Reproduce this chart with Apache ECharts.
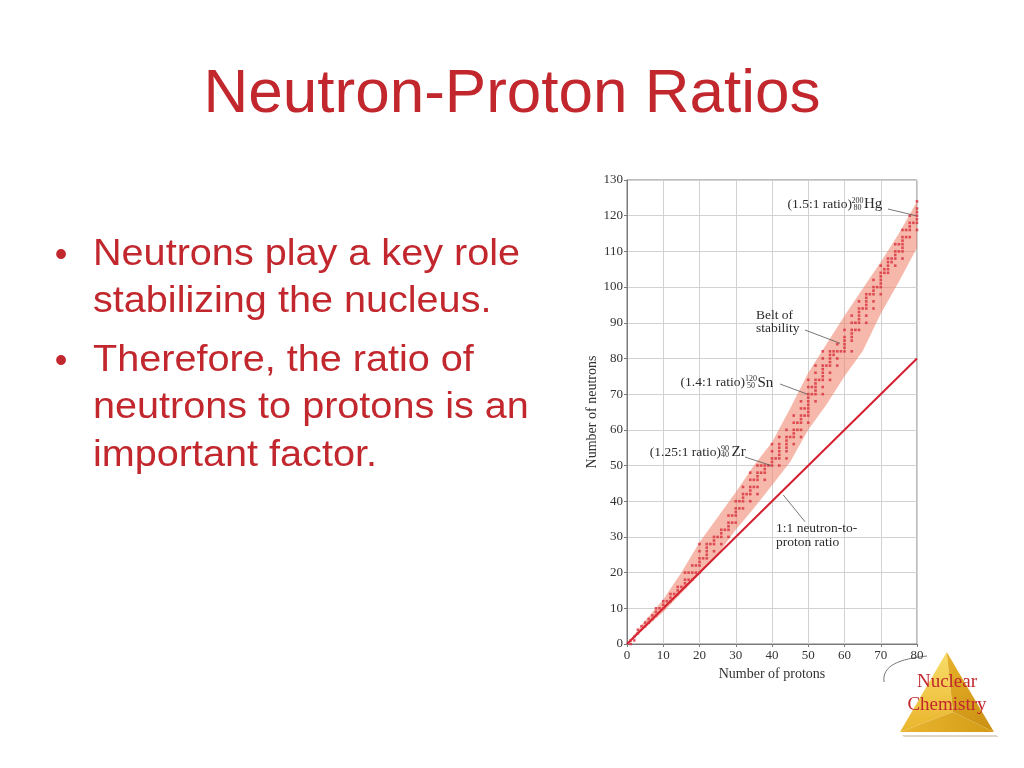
<!DOCTYPE html>
<html>
<head>
<meta charset="utf-8">
<script src="https://cdn.jsdelivr.net/npm/echarts@6/dist/echarts.min.js"></script>
<style>
html,body{margin:0;padding:0;background:#ffffff;}
#chart{width:1024px;height:768px;}
</style>
</head>
<body>
<div id="chart"></div>
<script>
// ---------- DATA ----------
const slideTitle = 'Neutron-Proton Ratios';
const bulletItems = [
  ['Neutrons play a key role', 'stabilizing the nucleus.'],
  ['Therefore, the ratio of', 'neutrons to protons is an', 'important factor.']
];
const xAxisTitle = 'Number of protons';
const yAxisTitle = 'Number of neutrons';
const xRange = [0, 80];
const yRange = [0, 130];
const tickStep = 10;

// stable nuclides: [protons, [neutron counts]]
const stableNuclides = [
  [1,[0,1]],[2,[1,2]],[3,[3,4]],[4,[5]],[5,[5,6]],[6,[6,7]],[7,[7,8]],[8,[8,9,10]],
  [9,[10]],[10,[10,11,12]],[11,[12]],[12,[12,13,14]],[13,[14]],[14,[14,15,16]],[15,[16]],
  [16,[16,17,18,20]],[17,[18,20]],[18,[18,20,22]],[19,[20,22]],[20,[20,22,23,24,26,28]],
  [21,[24]],[22,[24,25,26,27,28]],[23,[28]],[24,[26,28,29,30]],[25,[30]],[26,[28,30,31,32]],
  [27,[32]],[28,[30,32,33,34,36]],[29,[34,36]],[30,[34,36,37,38,40]],[31,[38,40]],
  [32,[38,40,41,42,44]],[33,[42]],[34,[40,42,43,44,46,48]],[35,[44,46]],
  [36,[42,44,46,47,48,50]],[37,[48,50]],[38,[46,48,49,50]],[39,[50]],[40,[50,51,52,54,56]],
  [41,[52]],[42,[50,52,53,54,55,56,58]],[44,[52,54,55,56,57,58,60]],[45,[58]],
  [46,[56,58,59,60,62,64]],[47,[60,62]],[48,[58,60,62,63,64,66,68]],[49,[64,66]],
  [50,[62,64,65,66,67,68,69,70,72,74]],[51,[70,72]],[52,[68,70,71,72,73,74,76,78]],[53,[74]],
  [54,[70,72,74,75,76,77,78,80,82]],[55,[78]],[56,[74,76,78,79,80,81,82]],[57,[81,82]],
  [58,[78,80,82,84]],[59,[82]],[60,[82,83,84,85,86,88]],[62,[82,85,86,87,88,90,92]],
  [63,[88,90]],[64,[88,90,91,92,93,94,96]],[65,[94]],[66,[90,92,94,95,96,97,98]],[67,[98]],
  [68,[94,96,98,99,100,102]],[69,[100]],[70,[98,100,101,102,103,104,106]],[71,[104,105]],
  [72,[104,105,106,107,108]],[73,[107,108]],[74,[106,108,109,110,112]],[75,[110,112]],
  [76,[108,110,111,112,113,114,116]],[77,[114,116]],[78,[114,116,117,118,120]],[79,[118]],
  [80,[116,118,119,120,121,122,124]]
];

// belt of stability edges (protons, neutrons)
const beltUpper = [[0,0],[5,6.5],[10,12.5],[15,20],[20,28.5],[25,35.5],[30,42.5],[35,50],[40,56.5],[45,66],[50,76],[55,84],[60,92],[65,99.5],[70,107],[75,115],[80,124]];
const beltLower = [[0,0],[10,9],[20,19.5],[25,25],[30,32],[35,38],[40,44.5],[45,51],[50,60],[55,67],[60,75],[65,82],[70,92.5],[75,101.5],[80,111]];

// 1:1 ratio line
const unityLine = [[0,0],[80,80]];

// annotations (text)
const nuclideNotes = [
  {ratio:'(1.5:1 ratio)', mass:'200', atomic:'80', symbol:'Hg', point:[80,120]},
  {ratio:'(1.4:1 ratio)', mass:'120', atomic:'50', symbol:'Sn', point:[50,70]},
  {ratio:'(1.25:1 ratio)', mass:'90', atomic:'40', symbol:'Zr', point:[40,50]}
];
const beltNote = ['Belt of', 'stability'];
const unityNote = ['1:1 neutron-to-', 'proton ratio'];
const logoLines = ['Nuclear', 'Chemistry'];

// ---------- CHART ----------
const scatterData = [];
stableNuclides.forEach(function (row) {
  row[1].forEach(function (n) { scatterData.push([row[0], n]); });
});
const beltPolygon = beltUpper.concat(beltLower.slice().reverse());

const chart = echarts.init(document.getElementById('chart'), null, {renderer: 'canvas'});
const serif = '"Liberation Serif", "Times New Roman", serif';
const sans = '"Liberation Sans", Arial, sans-serif';
const red = '#c1272d';

chart.setOption({
  backgroundColor: '#ffffff',
  animation: false,
  grid: {left: 627, right: 107, top: 180, bottom: 124, show: true, borderColor: '#7a7a7a', borderWidth: 1, backgroundColor: 'transparent'},
  xAxis: {
    type: 'value', min: xRange[0], max: xRange[1], interval: tickStep,
    name: xAxisTitle, nameLocation: 'middle', nameGap: 18,
    nameTextStyle: {fontFamily: serif, fontSize: 14, color: '#333'},
    axisLine: {show: true, lineStyle: {color: '#7a7a7a', width: 1}},
    axisTick: {show: true, length: 3, lineStyle: {color: '#7a7a7a'}},
    axisLabel: {fontFamily: serif, fontSize: 13, color: '#333', margin: 5},
    splitLine: {show: true, lineStyle: {color: '#d2d2d2', width: 1}}
  },
  yAxis: {
    type: 'value', min: yRange[0], max: yRange[1], interval: tickStep,
    name: yAxisTitle, nameLocation: 'middle', nameGap: 25, nameRotate: 90,
    nameTextStyle: {fontFamily: serif, fontSize: 14, color: '#333'},
    axisLine: {show: true, lineStyle: {color: '#7a7a7a', width: 1}},
    axisTick: {show: true, length: 3, lineStyle: {color: '#7a7a7a'}},
    axisLabel: {fontFamily: serif, fontSize: 13, color: '#333', margin: 4},
    splitLine: {show: true, lineStyle: {color: '#d2d2d2', width: 1}}
  },
  series: [
    {
      type: 'custom', silent: true, z: 1, clip: true,
      data: beltPolygon,
      renderItem: function (params, api) {
        if (params.dataIndex !== 0) return null;
        return {
          type: 'polygon',
          shape: {points: beltPolygon.map(function (p) { return api.coord(p); })},
          style: {fill: 'rgba(239,126,100,0.55)'}
        };
      }
    },
    {
      type: 'line', data: unityLine, symbol: 'none', z: 3, silent: true,
      lineStyle: {color: '#d51f30', width: 2}
    },
    {
      type: 'scatter', data: scatterData, symbol: 'rect', symbolSize: 2.6, z: 4, silent: true,
      itemStyle: {color: '#d8303c'}
    }
  ]
});

// ---------- DECORATION / ANNOTATIONS ----------
function px(p) { return chart.convertToPixel({gridIndex: 0}, p); }
const g = [];
function txt(text, x, y, font, fill, align, extra) {
  const el = {type: 'text', x: x, y: y, z: 100, style: {text: text, font: font, fill: fill, align: align || 'left', verticalAlign: 'middle'}};
  if (extra) Object.assign(el, extra);
  g.push(el);
}
function seg(x1, y1, x2, y2) {
  g.push({type: 'line', z: 99, shape: {x1: x1, y1: y1, x2: x2, y2: y2}, style: {stroke: '#555', lineWidth: 0.8}});
}

// title
txt(slideTitle, 512, 94.5, '62px ' + sans, red, 'center');

// bullets
const bulletTop = [[255, 302.5], [361, 408.5, 456]];
bulletItems.forEach(function (lines, i) {
  txt('\u2022', 61, bulletTop[i][0] + 1, '36px ' + sans, red, 'center');
  lines.forEach(function (line, j) {
    txt(line, 93, bulletTop[i][j], '36px ' + sans, red, 'left', {scaleX: 1.1});
  });
});

// nuclide labels
const noteLayout = [
  {rx: 852, y: 204.3, sx: 857.5, from: [888, 209]},
  {rx: 745, y: 382.6, sx: 751, from: [780, 384]},
  {rx: 721, y: 452, sx: 725, from: [745, 457]}
];
const f13 = '13.5px ' + serif;
nuclideNotes.forEach(function (n, i) {
  const L = noteLayout[i];
  txt(n.ratio, L.rx, L.y, f13, '#2b2b2b', 'right');
  txt(n.mass, L.sx, L.y - 3.3, '8px ' + serif, '#2b2b2b', 'center');
  txt(n.atomic, L.sx, L.y + 3.3, '8px ' + serif, '#2b2b2b', 'center');
  txt(n.symbol, L.sx + 6.5, L.y, '15px ' + serif, '#2b2b2b', 'left');
  const end = px(n.point);
  seg(L.from[0], L.from[1], end[0] - 1, end[1]);
});

// belt of stability
txt(beltNote[0], 756, 315.3, f13, '#2b2b2b', 'left');
txt(beltNote[1], 756, 328.6, f13, '#2b2b2b', 'left');
seg(805, 330, 840, 343.3);

// 1:1 label
txt(unityNote[0], 776, 528.6, f13, '#2b2b2b', 'left');
txt(unityNote[1], 776, 542, f13, '#2b2b2b', 'left');
seg(805, 521.7, 783.3, 495);

// logo
g.push({type: 'polygon', z: 90, shape: {points: [[902, 735], [996, 735], [999, 737], [904, 737]]}, style: {fill: 'rgba(120,90,30,0.25)'}});
g.push({type: 'polygon', z: 91, shape: {points: [[946.7, 652], [900, 732], [953, 712]]},
  style: {fill: new echarts.graphic.LinearGradient(0, 0, 0, 1, [{offset: 0, color: '#f8dd6a'}, {offset: 1, color: '#eab52c'}])}});
g.push({type: 'polygon', z: 91, shape: {points: [[946.7, 652], [953, 712], [994, 732]]},
  style: {fill: new echarts.graphic.LinearGradient(0, 0, 1, 1, [{offset: 0, color: '#e7b22a'}, {offset: 1, color: '#c98f12'}])}});
g.push({type: 'polygon', z: 91, shape: {points: [[900, 732], [953, 712], [994, 732]]},
  style: {fill: new echarts.graphic.LinearGradient(0, 0, 1, 0, [{offset: 0, color: '#e9b630'}, {offset: 1, color: '#d39b16'}])}});
g.push({type: 'bezierCurve', z: 92, shape: {x1: 884, y1: 682, cpx1: 882, cpy1: 665, cpx2: 900, cpy2: 659, x2: 927, y2: 656}, style: {stroke: '#555', lineWidth: 0.8, fill: null}});
txt(logoLines[0], 947, 682, '19px ' + serif, red, 'center');
txt(logoLines[1], 947, 705, '19px ' + serif, red, 'center');

chart.setOption({graphic: {elements: g}});
</script>
</body>
</html>
